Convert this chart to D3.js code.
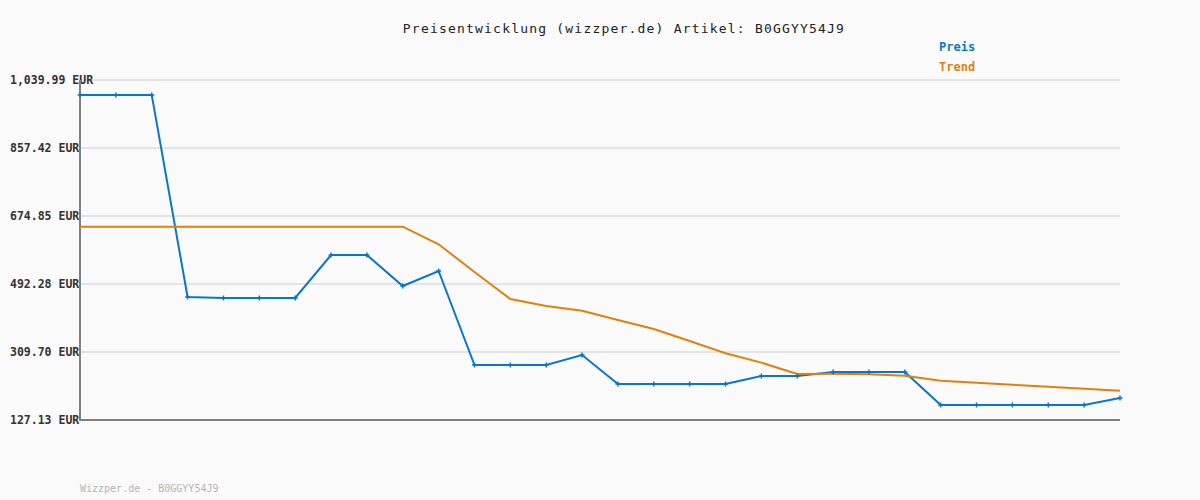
<!DOCTYPE html>
<html>
<head>
<meta charset="utf-8">
<script src="https://cdn.jsdelivr.net/npm/d3@7"></script>
<style>
html,body{margin:0;padding:0;background:#fafafa;}
svg{display:block;}
</style>
</head>
<body>
<svg id="chart" width="1200" height="500"></svg>
<script>
const titleText = "Preisentwicklung (wizzper.de) Artikel: B0GGYY54J9";
const footerText = "Wizzper.de - B0GGYY54J9";
const categories = ["1","2","3","4","5","6","7","8","9","10","11","12","13","14","15","16","17","18","19","20","21","22","23","24","25","26","27","28","29","30"];
const preis = [999.99,999.99,999.99,457.4,454.7,454.7,454.7,570.1,570.1,486.9,527.2,274.8,274.8,274.8,301.7,223.8,223.8,223.8,223.8,245.3,245.3,256.0,256.0,256.0,167.4,167.4,167.4,167.4,167.4,186.2];
const trend = [646.1,646.1,646.1,646.1,646.1,646.1,646.1,646.1,646.1,646.1,598.8,524.5,452.0,433.2,420.6,395.6,371.5,339.3,306.3,281.1,250.8,251.0,250.0,246.1,232.6,227.3,221.9,216.5,211.2,205.8];
const yTicks = [127.13,309.70,492.28,674.85,857.42,1039.99];
const legendLabels = ["Preis","Trend"];

(function(){
const svg = d3.select("#chart");
const W = 1200, H = 500;
const mLeft = 80, mRight = 1120, mTop = 80, mBottom = 420;
const blue = "#0a76c8", orange = "#e0800e";

svg.append("rect").attr("width",W).attr("height",H).attr("fill","#fafafa");

const x = d3.scalePoint().domain(categories).range([mLeft,mRight]);
const y = d3.scaleLinear().domain([yTicks[0], yTicks[yTicks.length-1]]).range([mBottom, mTop]);

svg.append("g").selectAll("line").data(yTicks.slice(1)).join("line")
  .attr("x1",mLeft).attr("x2",mRight)
  .attr("y1",d=>y(d)).attr("y2",d=>y(d))
  .attr("stroke","#e4e4e4").attr("stroke-width",2);

const fmt = d3.format(",.2f");
svg.append("g").selectAll("text").data(yTicks).join("text")
  .attr("x",10).attr("y",d=>y(d)).attr("dy","0.35em")
  .attr("font-family","DejaVu Sans Mono").attr("font-size",11.5).attr("font-weight","bold")
  .attr("fill","#333").text(d=>fmt(d)+" EUR");

svg.append("line").attr("x1",mLeft).attr("x2",mLeft).attr("y1",mTop).attr("y2",mBottom+1)
  .attr("stroke","#808080").attr("stroke-width",2);
svg.append("line").attr("x1",mLeft-1).attr("x2",mRight).attr("y1",mBottom).attr("y2",mBottom)
  .attr("stroke","#808080").attr("stroke-width",2);

const line = d3.line().x((d,i)=>x(categories[i])).y(d=>y(d));

svg.append("path").datum(preis).attr("d",line).attr("fill","none")
  .attr("stroke",blue).attr("stroke-width",2);
svg.append("path").datum(trend).attr("d",line).attr("fill","none")
  .attr("stroke",orange).attr("stroke-width",2);

svg.append("g").selectAll("path").data(preis).join("path")
  .attr("d",(d,i)=>{const cx=x(categories[i]), cy=y(d);
    return `M${cx-2.5},${cy}H${cx+2.5}M${cx},${cy-2.5}V${cy+2.5}`;})
  .attr("stroke",blue).attr("stroke-width",1.5).attr("fill","none");

svg.append("text").attr("x",624).attr("y",33).attr("text-anchor","middle")
  .attr("font-family","DejaVu Sans Mono").attr("font-size",13)
  .attr("letter-spacing","1.2px").attr("fill","#222").text(titleText);

svg.append("g").selectAll("text").data(legendLabels).join("text")
  .attr("x",939).attr("y",(d,i)=>51+i*20)
  .attr("font-family","DejaVu Sans Mono").attr("font-size",12).attr("font-weight","bold")
  .attr("fill",(d,i)=>i===0?blue:orange).text(d=>d);

svg.append("text").attr("x",80).attr("y",492)
  .attr("font-family","DejaVu Sans Mono").attr("font-size",10)
  .attr("fill","#b4b4b4").text(footerText);
})();
</script>
</body>
</html>
